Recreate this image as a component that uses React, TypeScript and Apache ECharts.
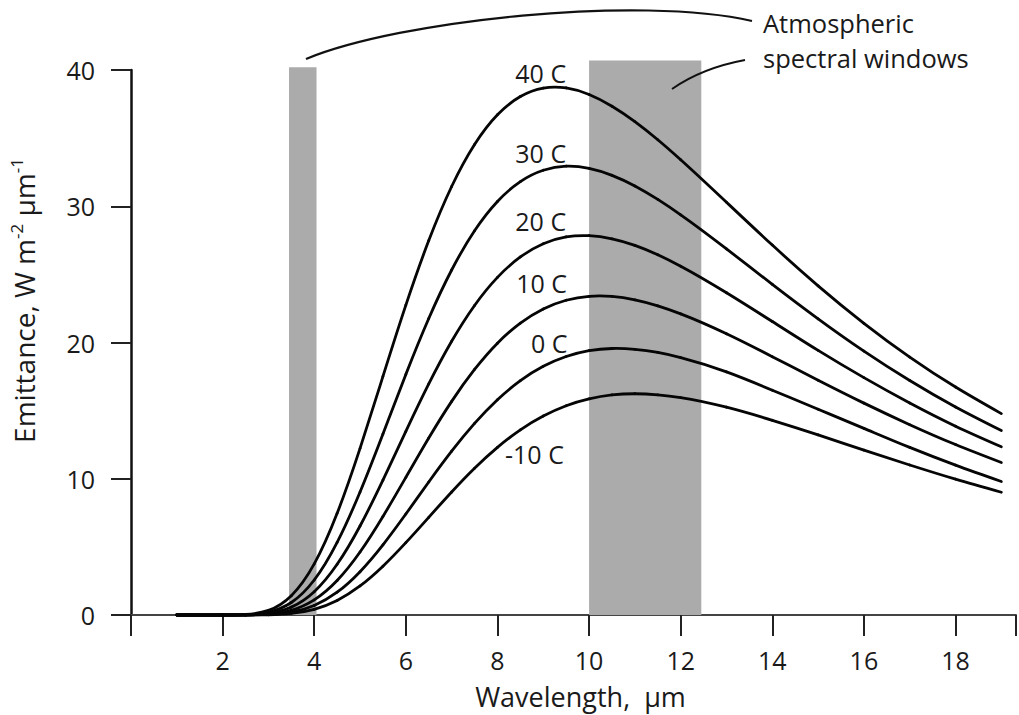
import React, { useEffect, useRef } from "react";
import * as echarts from "echarts";

// Wavelength sample points (µm)
const wavelengths = [1, 2, 2.5, 3, 3.5, 4, 4.5, 5, 5.5, 6, 6.5, 7, 7.5, 8, 8.5, 9, 9.5, 10, 10.5, 11, 11.5, 12, 13, 14, 15, 16, 17, 18, 19];

// Spectral emittance (W m-2 µm-1) for each surface temperature
const emit40 = [0, 0, 0.04, 0.34, 1.42, 3.75, 7.46, 12.23, 17.51, 22.74, 27.48, 31.45, 34.53, 36.71, 38.05, 38.67, 38.68, 38.2, 37.34, 36.21, 34.88, 33.41, 30.29, 27.15, 24.16, 21.41, 18.93, 16.73, 14.78];
const emit30 = [0, 0, 0.02, 0.21, 0.92, 2.57, 5.33, 9.03, 13.29, 17.66, 21.76, 25.32, 28.2, 30.35, 31.81, 32.64, 32.94, 32.78, 32.27, 31.49, 30.5, 29.37, 26.87, 24.27, 21.74, 19.37, 17.21, 15.27, 13.54];
const emit20 = [0, 0, 0.01, 0.12, 0.58, 1.71, 3.72, 6.53, 9.9, 13.48, 16.96, 20.09, 22.72, 24.78, 26.28, 27.25, 27.75, 27.84, 27.61, 27.13, 26.44, 25.6, 23.65, 21.54, 19.42, 17.42, 15.56, 13.86, 12.35];
const emit10 = [0, 0, 0.01, 0.07, 0.35, 1.11, 2.53, 4.62, 7.23, 10.1, 12.99, 15.68, 18.02, 19.95, 21.42, 22.46, 23.1, 23.39, 23.38, 23.13, 22.69, 22.1, 20.64, 18.96, 17.23, 15.55, 13.97, 12.51, 11.19];
const emit0 = [0, 0, 0, 0.04, 0.21, 0.7, 1.67, 3.18, 5.15, 7.41, 9.76, 12.02, 14.06, 15.8, 17.2, 18.25, 18.97, 19.4, 19.56, 19.5, 19.27, 18.89, 17.84, 16.5, 15.1, 13.7, 12.3, 11.0, 9.8];
const emitMinus10 = [0, 0, 0, 0.02, 0.12, 0.42, 1.07, 2.13, 3.58, 5.31, 7.17, 9.03, 10.77, 12.3, 13.59, 14.6, 15.36, 15.86, 16.15, 16.24, 16.16, 15.96, 15.25, 14.29, 13.22, 12.1, 11.01, 9.97, 9.01];

const curves = [emit40, emit30, emit20, emit10, emit0, emitMinus10];
const curveNames = ["40 C", "30 C", "20 C", "10 C", "0 C", "-10 C"];
// Where each temperature label sits (right edge, vertical centre), in data units
const labelX = [9.5, 9.5, 9.5, 9.52, 9.53, 9.45];
const labelY = [39.8, 33.9, 28.9, 24.4, 20.0, 11.8];

// Atmospheric windows: start, end (µm) and drawn height
const windowStart = [3.45, 10.0];
const windowEnd = [4.05, 12.45];
const windowTop = [40.2, 40.7];

const FONT = '"Open Sans", "Noto Sans", sans-serif';
const INK = "#1a1a1a";

type Pt = [number, number];

// Natural cubic spline through the samples, expressed as one cubic Bezier
// (in data units) per interval so it can be mapped through the axes.
function splineSegments(xs: number[], ys: number[]): Pt[][] {
  const n = xs.length;
  const h: number[] = [];
  for (let i = 0; i < n - 1; i++) h.push(xs[i + 1] - xs[i]);
  const a: number[] = [];
  const b: number[] = [];
  const c: number[] = [];
  const r: number[] = [];
  for (let i = 1; i < n - 1; i++) {
    a.push(h[i - 1]);
    b.push(2 * (h[i - 1] + h[i]));
    c.push(h[i]);
    r.push(6 * ((ys[i + 1] - ys[i]) / h[i] - (ys[i] - ys[i - 1]) / h[i - 1]));
  }
  const m = a.length;
  for (let k = 1; k < m; k++) {
    const w = a[k] / b[k - 1];
    b[k] -= w * c[k - 1];
    r[k] -= w * r[k - 1];
  }
  const sol = new Array(m).fill(0);
  sol[m - 1] = r[m - 1] / b[m - 1];
  for (let k = m - 2; k >= 0; k--) sol[k] = (r[k] - c[k] * sol[k + 1]) / b[k];
  const M = new Array(n).fill(0);
  for (let k = 0; k < m; k++) M[k + 1] = sol[k];

  const segs: Pt[][] = [];
  for (let i = 0; i < n - 1; i++) {
    const hh = h[i];
    const d = (ys[i + 1] - ys[i]) / hh;
    const s0 = d - (hh * (2 * M[i] + M[i + 1])) / 6;
    const s1 = d + (hh * (M[i] + 2 * M[i + 1])) / 6;
    segs.push([
      [xs[i], ys[i]],
      [xs[i] + hh / 3, ys[i] + (s0 * hh) / 3],
      [xs[i + 1] - hh / 3, ys[i + 1] - (s1 * hh) / 3],
      [xs[i + 1], ys[i + 1]],
    ]);
  }
  return segs;
}

export default function App() {
  const ref = useRef<HTMLDivElement>(null);

  useEffect(() => {
    if (!ref.current) return;
    const chart = echarts.init(ref.current, undefined, { renderer: "svg" });

    const curveSeries = curves.map((vals, ci) => {
      const segs = splineSegments(wavelengths, vals);
      return {
        type: "custom",
        name: curveNames[ci],
        data: wavelengths.map((w, j) => [w, vals[j]]),
        encode: { x: 0, y: 1 },
        silent: true,
        clip: false,
        z: 3,
        renderItem: (params: any, api: any) => {
          const i = params.dataIndex;
          if (i >= segs.length) return null;
          const p = segs[i].map((q) => api.coord(q));
          return {
            type: "bezierCurve",
            shape: {
              x1: p[0][0], y1: p[0][1],
              cpx1: p[1][0], cpy1: p[1][1],
              cpx2: p[2][0], cpy2: p[2][1],
              x2: p[3][0], y2: p[3][1],
            },
            style: { stroke: "#050505", lineWidth: 2.8, fill: null, lineCap: "round" },
          };
        },
      };
    });

    const option: any = {
      animation: false,
      backgroundColor: "#ffffff",
      grid: { left: 131, right: -2, top: 70, bottom: 100 },
      xAxis: {
        type: "value",
        min: 0,
        max: 19.32,
        interval: 2,
        name: "Wavelength,  μm",
        nameLocation: "middle",
        nameGap: 68,
        nameTextStyle: { fontFamily: FONT, fontSize: 27, color: INK, padding: [0, 0, 0, 14] },
        axisLine: { show: true, onZero: false, lineStyle: { color: "#444", width: 2 } },
        axisTick: { show: true, length: 21, lineStyle: { color: "#222", width: 2 } },
        axisLabel: {
          margin: 32,
          fontFamily: FONT,
          fontSize: 25,
          color: INK,
          formatter: (v: number) => (v > 0 && v % 2 === 0 ? String(v) : ""),
        },
        splitLine: { show: false },
      },
      yAxis: {
        type: "value",
        min: 0,
        max: 40,
        interval: 10,
        name: "{b|Emittance, W m}{s|-2}{b| μm}{s|-1}",
        nameLocation: "middle",
        nameRotate: 90,
        nameGap: 91,
        nameTextStyle: {
          padding: [0, 0, 0, 84],
          rich: {
            b: { fontFamily: FONT, fontSize: 28, color: INK, lineHeight: 32 },
            s: { fontFamily: FONT, fontSize: 17, color: INK, verticalAlign: "top" },
          },
        },
        axisLine: { show: true, onZero: false, lineStyle: { color: "#111", width: 2.5 } },
        axisTick: { show: true, length: 20, lineStyle: { color: "#222", width: 2 } },
        axisLabel: { margin: 36, fontFamily: FONT, fontSize: 25, color: INK },
        splitLine: { show: false },
      },
      series: [
        {
          // grey window bands, allowed to rise slightly above the top tick
          type: "custom",
          data: windowStart.map((s, i) => [s, windowEnd[i], windowTop[i]]),
          encode: { x: [0, 1], y: 2 },
          clip: false,
          silent: true,
          z: 1,
          renderItem: (_params: any, api: any) => {
            const p0 = api.coord([api.value(0), 0]);
            const p1 = api.coord([api.value(1), api.value(2)]);
            return {
              type: "rect",
              shape: { x: p0[0], y: p1[1], width: p1[0] - p0[0], height: p0[1] - p1[1] },
              style: { fill: "#ababab" },
            };
          },
        },
        ...curveSeries,
        {
          // temperature labels beside the curves
          type: "custom",
          data: curveNames.map((_n, i) => [labelX[i], labelY[i]]),
          encode: { x: 0, y: 1 },
          clip: false,
          silent: true,
          z: 5,
          renderItem: (params: any, api: any) => {
            const p = api.coord([api.value(0), api.value(1)]);
            return {
              type: "text",
              x: p[0],
              y: p[1],
              style: {
                text: curveNames[params.dataIndex],
                fill: INK,
                fontFamily: FONT,
                fontSize: 25,
                align: "right",
                verticalAlign: "middle",
              },
            };
          },
        },
      ],
      graphic: [
        {
          type: "bezierCurve",
          z: 10,
          shape: { x1: 306, y1: 59, cpx1: 400, cpy1: 20, cpx2: 640, cpy2: -5, x2: 752, y2: 21 },
          style: { stroke: "#111", lineWidth: 2.2, fill: "none" },
          silent: true,
        },
        {
          type: "bezierCurve",
          z: 10,
          shape: { x1: 672, y1: 89, cpx1: 702, cpy1: 68, x2: 745, y2: 60 },
          style: { stroke: "#111", lineWidth: 2, fill: "none" },
          silent: true,
        },
        {
          type: "text",
          z: 10,
          x: 763,
          y: 23,
          silent: true,
          style: { text: "Atmospheric", fontFamily: FONT, fontSize: 25.5, fill: INK, verticalAlign: "middle", align: "left" },
        },
        {
          type: "text",
          z: 10,
          x: 763,
          y: 58,
          silent: true,
          style: { text: "spectral windows", fontFamily: FONT, fontSize: 25.5, fill: INK, verticalAlign: "middle", align: "left" },
        },
      ],
    };

    chart.setOption(option);
    return () => chart.dispose();
  }, []);

  return (
    <div
      ref={ref}
      style={{ position: "absolute", left: 0, top: 0, width: 1019, height: 715, background: "#fff" }}
    />
  );
}
